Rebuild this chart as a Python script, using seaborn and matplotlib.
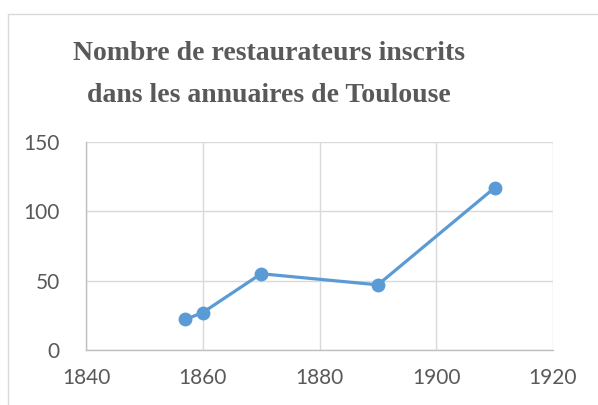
import matplotlib
matplotlib.use("Agg")
import matplotlib.pyplot as plt
import seaborn as sns
import pandas as pd

# data
years = [1857, 1860, 1870, 1890, 1910]
restaurateurs = [22, 27, 55, 47, 117]
x_ticks = [1840, 1860, 1880, 1900, 1920]
y_ticks = [0, 50, 100, 150]
title_lines = ["Nombre de restaurateurs inscrits", "dans les annuaires de Toulouse"]

df = pd.DataFrame({"annee": years, "nombre": restaurateurs})

sns.set_theme(style="white")
plt.rcParams['font.family'] = ['Lato', 'DejaVu Sans']

fig = plt.figure(figsize=(5.98, 4.05), dpi=100)
ax = fig.add_axes([86 / 598, 1 - 350 / 405, (553 - 86) / 598, (350 - 142) / 405])

sns.lineplot(data=df, x="annee", y="nombre", ax=ax, color="#5B9BD5",
             linewidth=2.3, marker="o", markersize=10, markeredgewidth=0)

ax.set_xlim(1840, 1920)
ax.set_ylim(0, 150)
ax.set_xticks(x_ticks)
ax.set_yticks(y_ticks)
ax.grid(True, color="#D9D9D9", linewidth=1)
ax.set_axisbelow(True)
ax.set_xlabel("")
ax.set_ylabel("")
for side in ["top", "right"]:
    ax.spines[side].set_visible(False)
for side in ["left", "bottom"]:
    ax.spines[side].set_color("#BFBFBF")
    ax.spines[side].set_linewidth(1)
ax.tick_params(axis="both", length=0, labelsize=15, labelcolor="#595959")
ax.tick_params(axis="x", pad=13)
ax.tick_params(axis="y", pad=19)

# title, two lines placed separately for Excel-like spacing
for line, ypix in zip(title_lines, [53, 95]):
    fig.text(269 / 598, 1 - ypix / 405, line, ha="center", va="center",
             family=["Liberation Serif"], fontweight="bold", fontsize=20,
             color="#595959")

# chart frame (left and top edges visible in the crop)
fig.add_artist(plt.Line2D([8 / 598, 8 / 598], [0, 1 - 14 / 405],
                          transform=fig.transFigure, color="#D9D9D9", lw=1))
fig.add_artist(plt.Line2D([8 / 598, 1], [1 - 14 / 405, 1 - 14 / 405],
                          transform=fig.transFigure, color="#D9D9D9", lw=1))

fig.savefig("out.png", dpi=100)
